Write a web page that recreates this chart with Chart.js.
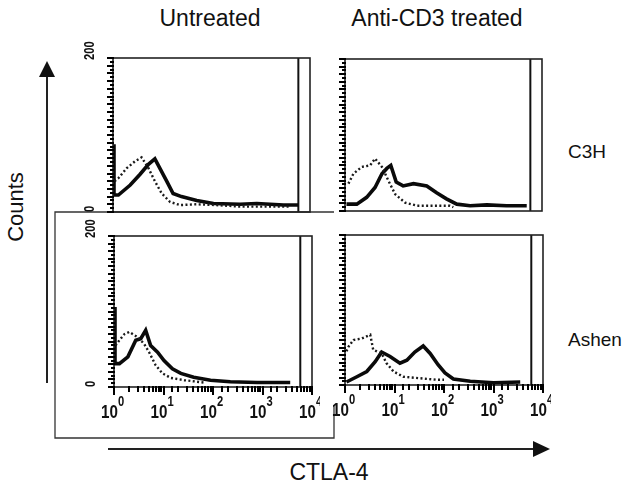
<!DOCTYPE html>
<html>
<head>
<meta charset="utf-8">
<script src="https://cdn.jsdelivr.net/npm/chart.js@4.4.1/dist/chart.umd.min.js"></script>
<style>
  body { margin: 0; background: #fff; }
  #fig { position: relative; width: 640px; height: 483px; overflow: hidden;
         font-family: "Liberation Sans", Arial, sans-serif; color: #111; }
  #fig canvas { position: absolute; }
  #fig svg { position: absolute; left: 0; top: 0; }
  .lbl { position: absolute; white-space: nowrap; transform: translate(-50%, -50%); }
</style>
</head>
<body>
<div id="fig">
  <svg width="640" height="483">
    <!-- Counts arrow -->
    <line x1="47" y1="383" x2="47" y2="74" stroke="#222" stroke-width="2"/>
    <polygon points="47,61 39,77 55,77" fill="#111"/>
    <!-- bracket round the lower left panel -->
    <polyline points="334,405 334,438 55,438 55,212 334,212" fill="none" stroke="#333" stroke-width="1.3"/>
    <!-- CTLA-4 arrow -->
    <line x1="108" y1="449" x2="536" y2="449" stroke="#222" stroke-width="2.2"/>
    <polygon points="550,449 533,441 533,457" fill="#111"/>
  </svg>
  <div class="lbl" style="left:210px;top:18px;font-size:23px;">Untreated</div>
  <div class="lbl" style="left:437px;top:18px;font-size:23px;">Anti-CD3 treated</div>
  <div class="lbl" style="left:587px;top:152px;font-size:19px;">C3H</div>
  <div class="lbl" style="left:595px;top:340px;font-size:19px;">Ashen</div>
  <div class="lbl" style="left:16px;top:207px;font-size:22px;transform:translate(-50%,-50%) rotate(-90deg);">Counts</div>
  <div class="lbl" style="left:329px;top:472px;font-size:23px;">CTLA-4</div>
</div>
<script>
// Histograms: x as decades (log10 of CTLA-4 fluorescence), y as counts
const tlSolidDec   = [0, 0.02, 0.11, 0.35, 0.55, 0.72, 0.85, 0.95, 1.09, 1.22, 1.39, 1.70, 2.04, 2.58, 2.92, 3.46, 3.76];
const tlSolidCount = [88, 22, 22, 35, 49, 62, 69, 57, 40, 24, 20, 15, 11, 10, 11, 9, 9];
const tlDotDec     = [0.03, 0.11, 0.28, 0.45, 0.58, 0.72, 0.85, 0.99, 1.16, 1.36, 1.70, 2.10, 2.58, 3.12, 3.60];
const tlDotCount   = [40, 44, 57, 66, 71, 57, 40, 24, 13, 9, 10, 9, 7, 7, 7];

const trSolidDec   = [0.03, 0.24, 0.44, 0.61, 0.75, 0.85, 0.93, 1.04, 1.18, 1.39, 1.66, 1.86, 2.06, 2.27, 2.54, 2.88, 3.28, 3.69];
const trSolidCount = [9, 9, 18, 31, 49, 56, 60, 38, 33, 36, 33, 24, 16, 9, 7, 8, 7, 7];
const trDotDec     = [0.07, 0.17, 0.34, 0.51, 0.61, 0.75, 0.88, 1.02, 1.22, 1.46, 1.79, 2.13, 2.2];
const trDotCount   = [36, 49, 58, 60, 69, 58, 40, 22, 11, 7, 7, 7, 5];

const blSolidDec   = [0, 0.02, 0.11, 0.28, 0.44, 0.54, 0.64, 0.74, 0.88, 1.01, 1.18, 1.35, 1.61, 1.95, 2.35, 2.89, 3.56];
const blSolidCount = [106, 31, 31, 40, 62, 64, 75, 55, 46, 35, 24, 18, 13, 9, 7, 6, 6];
const blDotDec     = [0.03, 0.11, 0.21, 0.31, 0.38, 0.48, 0.61, 0.71, 0.84, 0.98, 1.15, 1.42, 1.81];
const blDotCount   = [55, 62, 70, 73, 70, 66, 57, 46, 29, 18, 12, 9, 6];

const brSolidDec   = [0.03, 0.24, 0.44, 0.61, 0.74, 0.91, 1.11, 1.25, 1.41, 1.58, 1.72, 1.88, 2.02, 2.19, 2.53, 3.0, 3.54];
const brSolidCount = [4, 11, 18, 31, 44, 38, 29, 33, 44, 52, 42, 27, 16, 8, 5, 3, 4];
const brDotDec     = [0.03, 0.07, 0.17, 0.34, 0.51, 0.57, 0.74, 0.84, 0.98, 1.18, 1.51, 1.85, 2.0];
const brDotCount   = [45, 51, 60, 62, 67, 47, 42, 29, 18, 11, 9, 7, 7];

const xMin = 1, xMax = 10000;     // 10^0 .. 10^4
const yMin = 0, yMax = 200;
const gateX = 5800;               // saturation line near the top channel

const toPoints = (dec, counts) => dec.map((d, i) => ({ x: Math.pow(10, d), y: counts[i] }));
const isDecade = v => Math.abs(Math.log10(v) - Math.round(Math.log10(v))) < 1e-6;

// squeezed bold text, like the scanned tick labels
function narrowText(ctx, text, x, y, size, rot) {
  ctx.save();
  ctx.translate(x, y);
  if (rot) ctx.rotate(rot);
  ctx.scale(0.8, 1);
  ctx.font = 'bold ' + size + 'px Arial';
  ctx.fillText(text, 0, 0);
  ctx.restore();
}

// frame, tick marks and tick labels, placed from the chart's own scales
const framePlugin = {
  id: 'frame',
  afterDraw(chart, args, opts) {
    const { ctx, chartArea: a } = chart;
    const x = chart.scales.x, y = chart.scales.y;
    ctx.save();
    ctx.strokeStyle = '#222';
    ctx.lineWidth = 1.6;
    ctx.strokeRect(a.left, a.top, a.right - a.left, a.bottom - a.top);

    ctx.fillStyle = '#000';
    y.ticks.forEach(t => {
      const py = Math.round(y.getPixelForValue(t.value));
      const len = t.value % 10 === 0 ? 6 : 3;
      ctx.fillRect(a.left - len, py - 1, len + 1, 2);
    });
    if (opts.xLabels) {
      x.ticks.forEach(t => {
        const px = Math.round(x.getPixelForValue(t.value));
        const len = isDecade(t.value) ? 8 : 5;
        ctx.fillRect(px - 1, a.bottom - 1, 2, len + 1);
      });
    }

    ctx.fillStyle = '#111';
    ctx.textAlign = 'left';
    if (opts.yLabels) {
      ctx.textBaseline = 'middle';
      [yMin, yMax].forEach(v => {
        narrowText(ctx, String(v), a.left - 23, y.getPixelForValue(v) + (v === yMin ? 0 : 2), 14, -Math.PI / 2);
      });
    }
    if (opts.xLabels) {
      ctx.textBaseline = 'alphabetic';
      x.ticks.forEach(t => {
        if (!isDecade(t.value)) return;
        const px = x.getPixelForValue(t.value);
        narrowText(ctx, '10', px - 13, a.bottom + 31, 19);
        narrowText(ctx, String(Math.round(Math.log10(t.value))), px + 4, a.bottom + 19, 14);
      });
    }
    ctx.restore();
  }
};

function panel(box, solid, dotted, showX, showY) {
  const padL = 32, padT = 20, padR = 8, padB = 34;
  const cv = document.createElement('canvas');
  cv.width = box.r - box.l + padL + padR;
  cv.height = box.b - box.t + padT + padB;
  cv.style.left = (box.l - padL) + 'px';
  cv.style.top = (box.t - padT) + 'px';
  document.getElementById('fig').appendChild(cv);
  new Chart(cv, {
    type: 'line',
    data: {
      datasets: [
        { data: dotted, borderColor: '#1a1a1a', borderWidth: 2.4, borderDash: [2, 2.4], pointRadius: 0, tension: 0 },
        { data: solid, borderColor: '#0a0a0a', borderWidth: 3.6, pointRadius: 0, tension: 0 },
        { data: [{ x: gateX, y: yMin }, { x: gateX, y: yMax }], borderColor: '#111', borderWidth: 2, pointRadius: 0 }
      ]
    },
    options: {
      responsive: false,
      animation: false,
      events: [],
      layout: { padding: { left: padL, top: padT, right: padR, bottom: padB } },
      plugins: {
        legend: { display: false },
        tooltip: { enabled: false },
        frame: { xLabels: showX, yLabels: showY }
      },
      scales: {
        x: {
          type: 'logarithmic', min: xMin, max: xMax,
          border: { display: false },
          grid: { display: false, drawTicks: false },
          ticks: { display: false, autoSkip: false },
          afterFit: s => { s.height = 0; }
        },
        y: {
          type: 'linear', min: yMin, max: yMax,
          border: { display: false },
          grid: { display: false, drawTicks: false },
          ticks: { display: false, stepSize: 5, autoSkip: false },
          afterFit: s => { s.width = 0; }
        }
      }
    },
    plugins: [framePlugin]
  });
}

panel({ l: 113, t: 58, r: 310, b: 212 }, toPoints(tlSolidDec, tlSolidCount), toPoints(tlDotDec, tlDotCount), false, true);
panel({ l: 345, t: 59, r: 542, b: 211 }, toPoints(trSolidDec, trSolidCount), toPoints(trDotDec, trDotCount), false, false);
panel({ l: 114, t: 236, r: 312, b: 387 }, toPoints(blSolidDec, blSolidCount), toPoints(blDotDec, blDotCount), true, true);
panel({ l: 345, t: 235, r: 543, b: 385 }, toPoints(brSolidDec, brSolidCount), toPoints(brDotDec, brDotCount), true, false);
</script>
</body>
</html>
